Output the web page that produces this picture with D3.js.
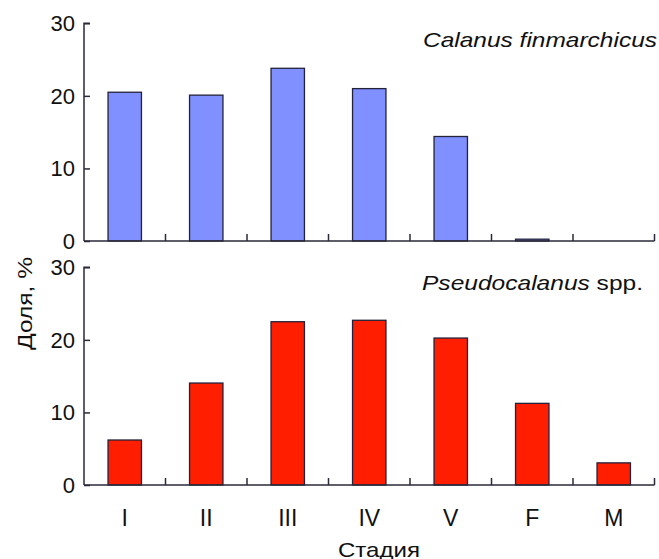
<!DOCTYPE html>
<html>
<head>
<meta charset="utf-8">
<script src="https://cdn.jsdelivr.net/npm/d3@7"></script>
<style>
  body { margin: 0; background: #fff; }
  text { font-family: "Liberation Sans", Arial, sans-serif; fill: #111; }
</style>
</head>
<body>
<svg id="chart" width="659" height="559"></svg>
<script>
const stages = ["I", "II", "III", "IV", "V", "F", "M"];
const calanus = [20.5, 20.1, 23.8, 21.0, 14.4, 0.25, 0];
const pseudocalanus = [6.2, 14.05, 22.5, 22.7, 20.25, 11.25, 3.05];
const yTicks = [0, 10, 20, 30];

const svg = d3.select("#chart");
const width = 659;
const margin = { left: 84, right: 4.5 };

const x = d3.scaleBand()
    .domain(stages)
    .range([margin.left, width - margin.right])
    .paddingInner(0.59)
    .paddingOuter(0.295);

const panels = [
    { values: calanus, top: 23.3, bottom: 241, color: "#8090ff",
      label: [{ t: "Calanus finmarchicus", italic: true }], labelX: 423, labelLen: 234, labelY: 46.5 },
    { values: pseudocalanus, top: 267.3, bottom: 485, color: "#ff1e00",
      label: [{ t: "Pseudocalanus", italic: true }, { t: " spp.", italic: false }], labelX: 422, labelLen: 221, labelY: 290 }
];

panels.forEach(p => {
    const y = d3.scaleLinear().domain([0, 30]).range([p.bottom, p.top]);
    const g = svg.append("g");

    g.selectAll("rect")
        .data(p.values)
        .enter()
        .append("rect")
        .attr("x", (d, i) => x(stages[i]))
        .attr("y", d => y(d))
        .attr("width", x.bandwidth())
        .attr("height", d => y(0) - y(d))
        .attr("fill", p.color)
        .attr("stroke", d => d > 0 ? "#22223a" : "none")
        .attr("stroke-width", 1.3);

    // y axis, ticks pointing inward
    const yAxis = g.append("g")
        .attr("transform", `translate(${margin.left},0)`)
        .call(d3.axisRight(y).tickValues(yTicks).tickSize(6).tickFormat(""));
    yAxis.select(".domain").attr("d", `M6,${p.top}H0V${p.bottom}`);
    yAxis.selectAll("line, path").attr("stroke", "#2a2a3a").attr("stroke-width", 1.5);

    g.selectAll(".ylab")
        .data(yTicks)
        .enter()
        .append("text")
        .attr("class", "ylab")
        .attr("x", margin.left - 9)
        .attr("y", d => y(d))
        .attr("dy", "0.36em")
        .attr("text-anchor", "end")
        .style("font-size", "22px")
        .text(d => d);

    // x axis with ticks between categories
    const step = x.step();
    const bounds = stages.map((s, i) => margin.left + step * (i + 1));
    g.append("line")
        .attr("x1", margin.left).attr("x2", width - margin.right)
        .attr("y1", p.bottom).attr("y2", p.bottom)
        .attr("stroke", "#2a2a3a").attr("stroke-width", 1.5);
    g.selectAll(".xt")
        .data(bounds)
        .enter()
        .append("line")
        .attr("x1", d => d).attr("x2", d => d)
        .attr("y1", p.bottom).attr("y2", p.bottom - 7)
        .attr("stroke", "#2a2a3a").attr("stroke-width", 1.5);

    const lab = g.append("text")
        .attr("x", p.labelX)
        .attr("y", p.labelY)
        .attr("textLength", p.labelLen)
        .attr("lengthAdjust", "spacingAndGlyphs")
        .style("font-size", "21px");
    p.label.forEach(part => {
        lab.append("tspan")
            .style("font-style", part.italic ? "italic" : "normal")
            .text(part.t);
    });
});

svg.selectAll(".xlab")
    .data(stages)
    .enter()
    .append("text")
    .attr("class", "xlab")
    .attr("x", d => x(d) + x.bandwidth() / 2)
    .attr("y", 525.5)
    .attr("text-anchor", "middle")
    .style("font-size", "23px")
    .text(d => d);

svg.append("text")
    .attr("x", 338)
    .attr("y", 556.5)
    .attr("textLength", 82)
    .attr("lengthAdjust", "spacingAndGlyphs")
    .style("font-size", "21px")
    .text("Стадия");

svg.append("text")
    .attr("transform", "translate(32,350) rotate(-90)")
    .attr("textLength", 93)
    .attr("lengthAdjust", "spacingAndGlyphs")
    .style("font-size", "21px")
    .text("Доля, %");
</script>
</body>
</html>
